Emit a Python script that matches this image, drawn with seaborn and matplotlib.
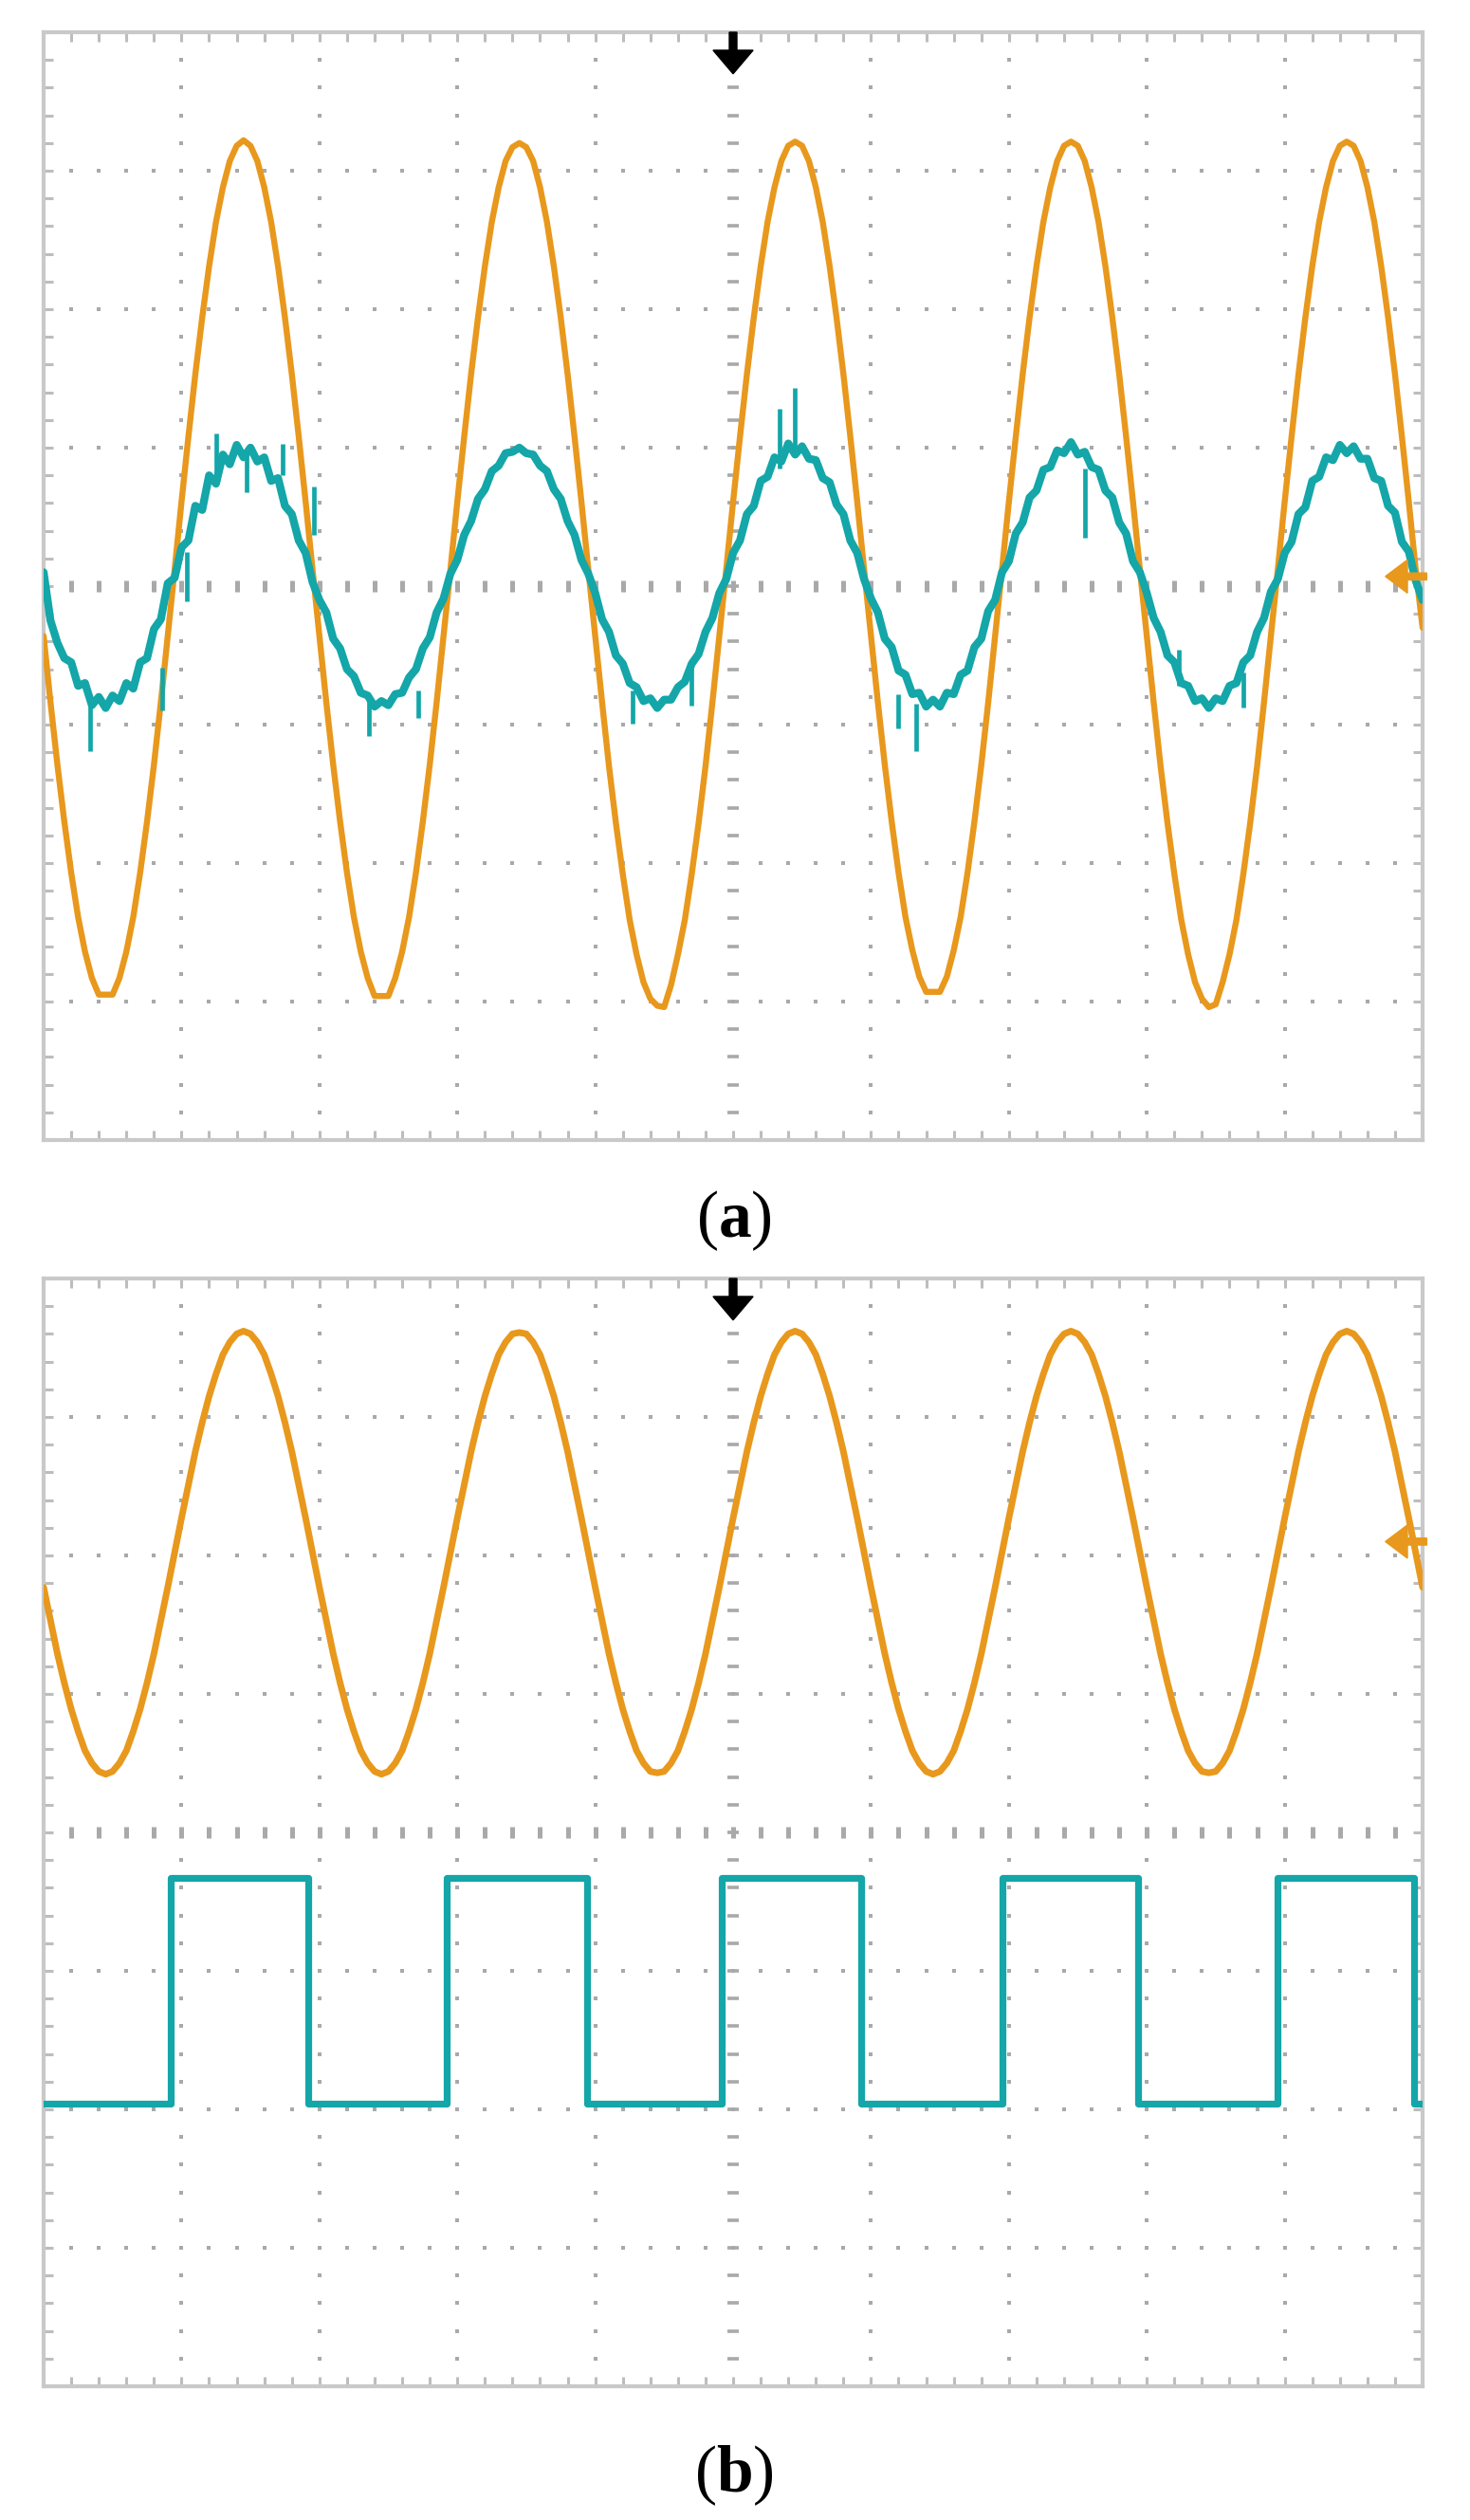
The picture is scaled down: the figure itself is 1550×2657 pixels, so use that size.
import numpy as np
import matplotlib
matplotlib.use('Agg')
import matplotlib.pyplot as plt
import seaborn as sns

sns.set_style('white')
plt.rcParams['font.family'] = ['Liberation Serif', 'DejaVu Serif']
plt.rcParams['mathtext.fontset'] = 'custom'
plt.rcParams['mathtext.rm'] = 'Liberation Serif'
plt.rcParams['mathtext.bf'] = 'Liberation Serif:bold'

ORANGE = '#e8981c'
CYAN = '#14a6a8'

# time axis in divisions (10 div across the screen), one sample every 0.05 div
t = np.round(np.arange(201) * 0.05, 2)

# (a) channel 1, orange, in divisions
orange_a = [
    -0.36, -0.84, -1.29, -1.70, -2.07, -2.39, -2.64, -2.83, -2.95, -2.95, -2.95, -2.83, -2.64, -2.39, -2.07, -1.70, -1.29, -0.84, -0.36, 0.12,
    0.61, 1.08, 1.53, 1.94, 2.31, 2.63, 2.88, 3.07, 3.18, 3.22, 3.18, 3.07, 2.88, 2.63, 2.31, 1.94, 1.53, 1.08, 0.61, 0.12,
    -0.36, -0.84, -1.29, -1.70, -2.07, -2.39, -2.64, -2.83, -2.96, -2.96, -2.96, -2.83, -2.64, -2.39, -2.07, -1.70, -1.29, -0.84, -0.36, 0.12,
    0.61, 1.08, 1.53, 1.94, 2.31, 2.63, 2.88, 3.07, 3.17, 3.20, 3.17, 3.07, 2.88, 2.63, 2.31, 1.94, 1.53, 1.08, 0.61, 0.12,
    -0.36, -0.84, -1.30, -1.71, -2.08, -2.41, -2.66, -2.86, -2.98, -3.03, -3.04, -2.88, -2.66, -2.41, -2.08, -1.71, -1.30, -0.84, -0.36, 0.12,
    0.61, 1.08, 1.53, 1.94, 2.31, 2.63, 2.88, 3.07, 3.18, 3.21, 3.18, 3.07, 2.88, 2.63, 2.31, 1.94, 1.53, 1.08, 0.61, 0.12,
    -0.36, -0.84, -1.29, -1.70, -2.07, -2.39, -2.63, -2.82, -2.93, -2.93, -2.93, -2.82, -2.63, -2.39, -2.07, -1.70, -1.29, -0.84, -0.36, 0.12,
    0.61, 1.08, 1.53, 1.94, 2.31, 2.63, 2.88, 3.07, 3.18, 3.21, 3.18, 3.07, 2.88, 2.63, 2.31, 1.94, 1.53, 1.08, 0.61, 0.12,
    -0.36, -0.84, -1.30, -1.71, -2.08, -2.41, -2.66, -2.86, -2.98, -3.04, -3.02, -2.86, -2.66, -2.41, -2.08, -1.71, -1.30, -0.84, -0.36, 0.12,
    0.61, 1.08, 1.53, 1.94, 2.31, 2.63, 2.88, 3.07, 3.18, 3.21, 3.18, 3.07, 2.88, 2.63, 2.31, 1.94, 1.53, 1.08, 0.61, 0.12,
    -0.30,
]

# (a) channel 2, cyan (noisy)
cyan_a = [
    0.10, -0.25, -0.41, -0.52, -0.55, -0.72, -0.70, -0.86, -0.80, -0.88, -0.79, -0.83, -0.70, -0.74, -0.55, -0.52, -0.31, -0.24, 0.02, 0.06,
    0.28, 0.33, 0.58, 0.55, 0.80, 0.74, 0.95, 0.88, 1.02, 0.93, 1.00, 0.90, 0.93, 0.76, 0.78, 0.58, 0.52, 0.33, 0.24, 0.03,
    -0.10, -0.19, -0.38, -0.45, -0.60, -0.65, -0.77, -0.79, -0.87, -0.83, -0.86, -0.78, -0.77, -0.66, -0.60, -0.45, -0.37, -0.19, -0.09, 0.09,
    0.19, 0.37, 0.47, 0.63, 0.70, 0.83, 0.87, 0.96, 0.97, 1.00, 0.96, 0.95, 0.87, 0.83, 0.70, 0.63, 0.47, 0.37, 0.19, 0.09,
    -0.05, -0.24, -0.33, -0.50, -0.56, -0.70, -0.73, -0.83, -0.81, -0.88, -0.82, -0.82, -0.73, -0.69, -0.56, -0.49, -0.33, -0.23, -0.05, 0.05,
    0.24, 0.33, 0.52, 0.58, 0.76, 0.79, 0.93, 0.90, 1.03, 0.95, 1.01, 0.92, 0.91, 0.78, 0.75, 0.59, 0.52, 0.33, 0.24, 0.05,
    -0.09, -0.19, -0.38, -0.44, -0.61, -0.64, -0.78, -0.77, -0.87, -0.82, -0.87, -0.77, -0.78, -0.64, -0.61, -0.44, -0.38, -0.18, -0.10, 0.10,
    0.18, 0.38, 0.46, 0.64, 0.69, 0.84, 0.86, 0.98, 0.96, 1.04, 0.95, 0.97, 0.86, 0.84, 0.69, 0.64, 0.46, 0.38, 0.18, 0.10,
    -0.05, -0.23, -0.33, -0.50, -0.55, -0.70, -0.72, -0.83, -0.81, -0.88, -0.81, -0.83, -0.72, -0.70, -0.55, -0.50, -0.33, -0.23, -0.04, 0.05,
    0.24, 0.32, 0.52, 0.57, 0.76, 0.79, 0.93, 0.91, 1.02, 0.96, 1.01, 0.92, 0.92, 0.78, 0.76, 0.58, 0.53, 0.32, 0.25, 0.04,
    -0.10,
]

# noise spikes on the cyan trace
spike_x = [0.34, 0.86, 1.04, 1.25, 1.47, 1.73, 1.96, 2.36, 2.72, 4.27, 4.70, 5.34, 5.45, 6.20, 6.33, 7.55, 8.23, 8.70]
spike_lo = [-1.19, -0.90, -0.11, 0.75, 0.68, 0.80, 0.37, -1.08, -0.95, -0.99, -0.86, 0.85, 0.95, -1.03, -1.19, 0.35, -0.72, -0.88]
spike_hi = [-0.85, -0.59, 0.25, 1.10, 0.98, 1.03, 0.72, -0.80, -0.75, -0.75, -0.55, 1.28, 1.43, -0.78, -0.85, 0.85, -0.46, -0.62]

# (b) channel 1, orange
orange_b = [
    1.77, 1.53, 1.29, 1.08, 0.89, 0.73, 0.59, 0.50, 0.44, 0.42, 0.44, 0.50, 0.59, 0.73, 0.89, 1.08, 1.29, 1.53, 1.77, 2.02,
    2.27, 2.51, 2.75, 2.96, 3.15, 3.31, 3.45, 3.54, 3.60, 3.62, 3.60, 3.54, 3.45, 3.31, 3.15, 2.96, 2.75, 2.51, 2.27, 2.02,
    1.77, 1.53, 1.29, 1.08, 0.89, 0.73, 0.59, 0.50, 0.44, 0.42, 0.44, 0.50, 0.59, 0.73, 0.89, 1.08, 1.29, 1.53, 1.77, 2.02,
    2.27, 2.51, 2.75, 2.96, 3.15, 3.31, 3.45, 3.54, 3.60, 3.61, 3.60, 3.54, 3.45, 3.31, 3.15, 2.96, 2.75, 2.51, 2.27, 2.02,
    1.77, 1.53, 1.29, 1.08, 0.89, 0.73, 0.59, 0.50, 0.44, 0.43, 0.44, 0.50, 0.59, 0.73, 0.89, 1.08, 1.29, 1.53, 1.77, 2.02,
    2.27, 2.51, 2.75, 2.96, 3.15, 3.31, 3.45, 3.54, 3.60, 3.62, 3.60, 3.54, 3.45, 3.31, 3.15, 2.96, 2.75, 2.51, 2.27, 2.02,
    1.77, 1.53, 1.29, 1.08, 0.89, 0.73, 0.59, 0.50, 0.44, 0.42, 0.44, 0.50, 0.59, 0.73, 0.89, 1.08, 1.29, 1.53, 1.77, 2.02,
    2.27, 2.51, 2.75, 2.96, 3.15, 3.31, 3.45, 3.54, 3.60, 3.62, 3.60, 3.54, 3.45, 3.31, 3.15, 2.96, 2.75, 2.51, 2.27, 2.02,
    1.77, 1.53, 1.29, 1.08, 0.89, 0.73, 0.59, 0.50, 0.44, 0.43, 0.44, 0.50, 0.59, 0.73, 0.89, 1.08, 1.29, 1.53, 1.77, 2.02,
    2.27, 2.51, 2.75, 2.96, 3.15, 3.31, 3.45, 3.54, 3.60, 3.62, 3.60, 3.54, 3.45, 3.31, 3.15, 2.96, 2.75, 2.51, 2.27, 2.02,
    1.77,
]

# (b) channel 2, square wave (edge times and levels)
square_t = [0.0, 0.92, 1.92, 2.92, 3.94, 4.92, 5.93, 6.95, 7.94, 8.95, 9.94, 10.0]
square_v = [-1.96, -0.33, -1.96, -0.33, -1.96, -0.33, -1.96, -0.33, -1.96, -0.33, -1.96, -1.96]

# channel ground markers on the right edge
marker_a = 0.07
marker_b = 2.10
trigger_x = 5.0

W, H = 1550, 2657
fig = plt.figure(figsize=(W / 100, H / 100), dpi=100)
left, right = 46, 1500
ax_a = fig.add_axes([left / W, 1 - 1202 / H, (right - left) / W, 1168 / H])
ax_b = fig.add_axes([left / W, 1 - 2516 / H, (right - left) / W, 1168 / H])

GRID = '#a9a9a9'


def scope_screen(ax):
    ax.set_xlim(0, 10)
    ax.set_ylim(-4, 4)
    ax.set_xticks(np.arange(0, 11, 1))
    ax.set_yticks(np.arange(-4, 5, 1))
    ax.set_xticks(np.arange(0, 10.01, 0.2), minor=True)
    ax.set_yticks(np.arange(-4, 4.01, 0.2), minor=True)
    ax.tick_params(which='both', direction='in', length=7, width=2.2, color='#bdbdbd',
                   top=True, right=True, bottom=True, left=True,
                   labelbottom=False, labelleft=False)
    for s in ax.spines.values():
        s.set_color('#c9c9c9')
        s.set_linewidth(3)
    fine = np.arange(0.2, 10, 0.2)
    fine_y = np.arange(-3.8, 4, 0.2)
    # dotted division lines
    for gx in [1, 2, 3, 4, 6, 7, 8, 9]:
        ax.plot(np.full(fine_y.size, gx), fine_y, 's', ms=3.2, color=GRID, mew=0, zorder=1)
    for gy in [-3, -2, -1, 1, 2, 3]:
        ax.plot(fine, np.full(fine.size, gy), 's', ms=3.2, color=GRID, mew=0, zorder=1)
    # centre graticule with small tick marks
    ax.plot(np.full(fine_y.size, 5), fine_y, '_', ms=8, mew=2.6, color=GRID, zorder=1)
    ax.plot(fine, np.zeros(fine.size), '|', ms=8, mew=3.6, color=GRID, zorder=1)
    ax.set_xlabel('')
    ax.set_ylabel('')


scope_screen(ax_a)
scope_screen(ax_b)

# panel (a)
sns.lineplot(x=t, y=orange_a, ax=ax_a, color=ORANGE, linewidth=4.6, zorder=3)
sns.lineplot(x=t, y=cyan_a, ax=ax_a, color=CYAN, linewidth=6.0, zorder=4)
ax_a.vlines(spike_x, spike_lo, spike_hi, color=CYAN, linewidth=3.4, zorder=4)

# panel (b)
sns.lineplot(x=t, y=orange_b, ax=ax_b, color=ORANGE, linewidth=5.0, zorder=3)
sns.lineplot(x=square_t, y=square_v, ax=ax_b, color=CYAN, linewidth=5.2, zorder=4,
             drawstyle='steps-post')

for ax, lvl in [(ax_a, marker_a), (ax_b, marker_b)]:
    ax.arrow(trigger_x, 4.0, 0, -0.30, width=0.055, head_width=0.29, head_length=0.17,
             length_includes_head=True, color='black', zorder=6, clip_on=False)
    ax.arrow(10.03, lvl, -0.30, 0, width=0.05, head_width=0.24, head_length=0.16,
             length_includes_head=True, color=ORANGE, zorder=6, clip_on=False)
    ax.set_xlim(0, 10)
    ax.set_ylim(-4, 4)

fig.text(774 / W, 1 - 1287 / H, r'($\mathbf{a}$)', ha='center', va='center',
         fontsize=50, color='black')
fig.text(774 / W, 1 - 2610 / H, r'($\mathbf{b}$)', ha='center', va='center',
         fontsize=50, color='black')

fig.savefig('out.png', dpi=100, facecolor='white')
